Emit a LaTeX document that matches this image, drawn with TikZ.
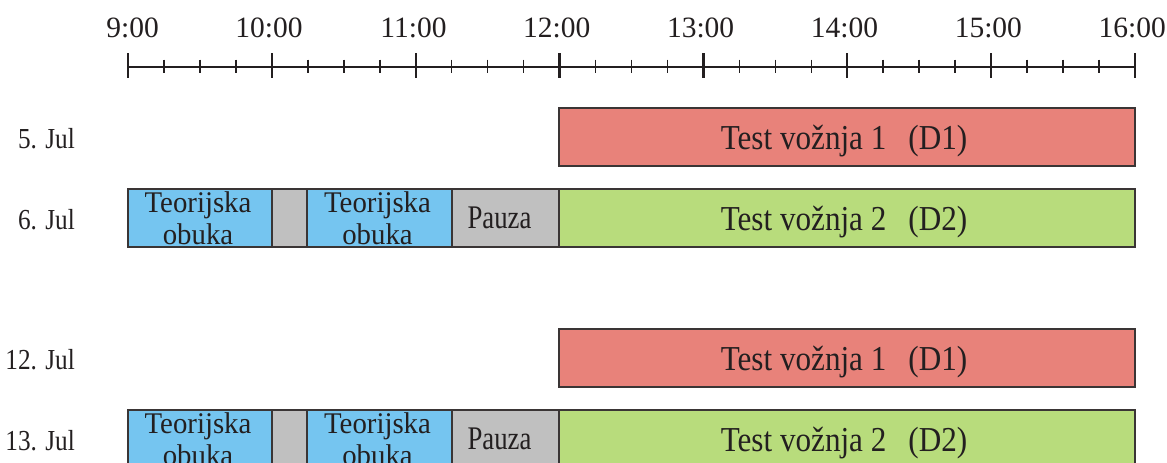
\documentclass[tikz,border=0pt]{standalone}
\usepackage{fontspec}
\setmainfont{Liberation Serif}
\newfontfamily\fdate[FakeStretch=0.87]{Liberation Serif}
\newfontfamily\ftest[FakeStretch=0.89]{Liberation Serif}
\newfontfamily\fteo[FakeStretch=0.96]{Liberation Serif}
\newfontfamily\fpau[FakeStretch=0.81]{Liberation Serif}
\usetikzlibrary{calc}
\definecolor{tred}{HTML}{E8827A}
\definecolor{tgreen}{HTML}{B8DC7C}
\definecolor{tblue}{HTML}{75C5F0}
\definecolor{tgray}{HTML}{C0C0C0}
\definecolor{tborder}{HTML}{3A3535}
\definecolor{tink}{HTML}{231F20}
\tikzset{
  boxbase/.style={draw=tborder, line width=1.6pt, inner sep=0pt, outer sep=0pt,
    anchor=north west, minimum height=58pt},
  redbox/.style={boxbase, fill=tred},
  greenbox/.style={boxbase, fill=tgreen},
  bluebox/.style={boxbase, fill=tblue},
  graybox/.style={boxbase, fill=tgray},
  hourlbl/.style={anchor=base east, inner sep=0pt, text=tink, font=\fontsize{29.5}{30}\selectfont},
  datelbl/.style={anchor=base east, inner sep=0pt, text=tink, font=\fdate\fontsize{29}{30}\selectfont},
  testlbl/.style={anchor=base, inner sep=0pt, text=tink, font=\ftest\fontsize{35}{35}\selectfont},
  teolbl/.style={anchor=north, inner sep=0pt, text=tink, align=center,
    font=\fteo\fontsize{30}{32}\selectfont},
  paulbl/.style={anchor=base, inner sep=0pt, text=tink, font=\fpau\fontsize{33}{33}\selectfont},
  axisline/.style={draw=tink, line width=2pt},
  majortick/.style={draw=tink, line width=2.2pt},
  minortick/.style={draw=tink, line width=1.6pt}
}
\newcommand\drivebox[4]{% name, top y, label, style
  \node[#4, minimum width=576pt] (#1) at (559,#2) {};
  \node[testlbl] (#1l) at ($(#1.north)+(-3,41)$) {#3};
}
\newcommand\sessionrow[2]{% prefix, top y
  \node[bluebox, minimum width=144pt] (#1t1) at (128,#2) {};
  \node[graybox, minimum width=35pt] (#1g1) at (272,#2) {};
  \node[bluebox, minimum width=145pt] (#1t2) at (307,#2) {};
  \node[graybox, minimum width=107pt] (#1p) at (452,#2) {};
  \node[teolbl] (#1t1l) at ($(#1t1.north)+(-2,2.5)$) {Teorijska\\obuka};
  \node[teolbl] (#1t2l) at ($(#1t2.north)+(-2,2.5)$) {Teorijska\\obuka};
  \node[paulbl] (#1pl) at ($(#1p.north)+(-6,39)$) {Pauza};
}
\begin{document}
\begin{tikzpicture}[x=1pt,y=-1pt]
\useasboundingbox (0,0) rectangle (1167,463);
\clip (0,0) rectangle (1167,463);
% axis
\coordinate (a0) at (128,67);
\coordinate (a1) at (1135,67);
\draw[axisline] (a0) -- (a1);
\foreach \i in {0,...,28}{
  \pgfmathsetmacro\xx{128+\i*35.9643}
  \pgfmathtruncatemacro\mm{mod(\i,4)}
  \ifnum\mm=0
    \draw[majortick] (\xx,53) -- (\xx,78);
  \else
    \draw[minortick] (\xx,59.5) -- (\xx,72.5);
  \fi
}
\foreach \h [count=\k from 0] in {9,...,16}{
  \pgfmathsetmacro\hx{128+\k*143.857+31}
  \node[hourlbl] (h\h) at (\hx,37) {\h:00};
}
% rows
\node[datelbl] (d1) at (75,148) {5. Jul};
\node[datelbl] (d2) at (75,229) {6. Jul};
\node[datelbl] (d3) at (75,369) {12. Jul};
\node[datelbl] (d4) at (75,450) {13. Jul};

\drivebox{ra}{108}{Test vožnja 1\hspace{22pt}(D1)}{redbox}
\sessionrow{sa}{189}
\drivebox{ga}{189}{Test vožnja 2\hspace{22pt}(D2)}{greenbox}

\drivebox{rb}{329}{Test vožnja 1\hspace{22pt}(D1)}{redbox}
\sessionrow{sb}{410}
\drivebox{gb}{410}{Test vožnja 2\hspace{22pt}(D2)}{greenbox}
\end{tikzpicture}
\end{document}
